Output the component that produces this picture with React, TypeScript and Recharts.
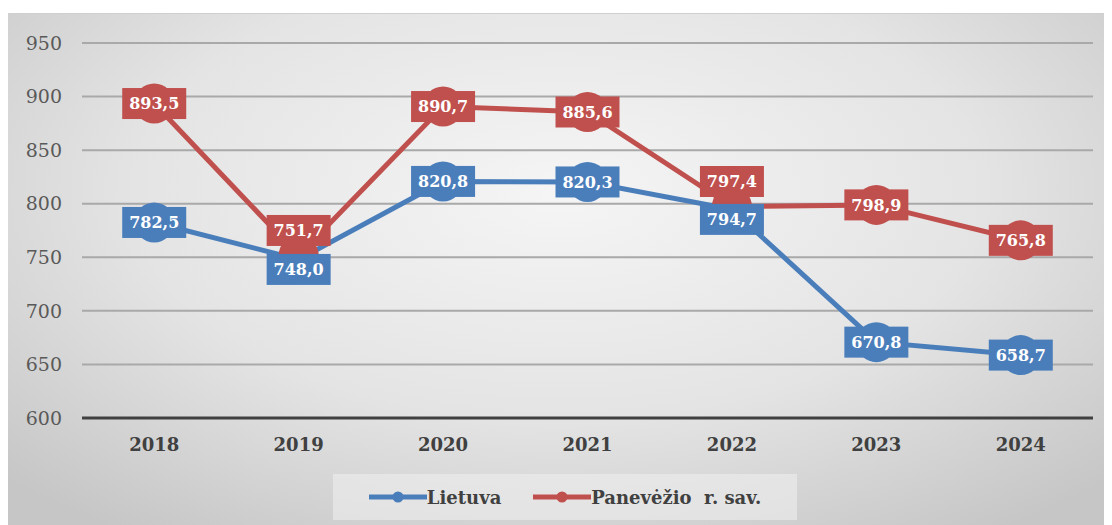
import { LineChart, Line, XAxis, YAxis, CartesianGrid, Legend } from 'recharts';

const years = ['2018', '2019', '2020', '2021', '2022', '2023', '2024'];
const lietuva = [782.5, 748.0, 820.8, 820.3, 794.7, 670.8, 658.7];
const panevezio = [893.5, 751.7, 890.7, 885.6, 797.4, 798.9, 765.8];
const yTicks = [600, 650, 700, 750, 800, 850, 900, 950];

const BLUE = '#4a7ebb';
const RED = '#c0504d';
const SERIF = "'DejaVu Serif', serif";

const data = years.map((year, i) => ({ year, lietuva: lietuva[i], panevezio: panevezio[i] }));

const fmt = (v: number) => v.toFixed(1).replace('.', ',');

// labels sit on the point; when the two series nearly touch, red goes up and blue goes down
const makeLabel = (fill: string, own: number[], other: number[], isUpper: boolean) => (props: any) => {
  const { x, y, index } = props;
  const close = Math.abs(own[index] - other[index]) < 10;
  const shift = close ? (isUpper ? -25 : 10) : 0;
  const w = 64;
  const h = 31;
  return (
    <g>
      <rect x={x - w / 2} y={y + shift - h / 2} width={w} height={h} fill={fill} />
      <text
        x={x}
        y={y + shift}
        dy="0.36em"
        textAnchor="middle"
        fill="#fff"
        style={{ fontFamily: SERIF, fontWeight: 'bold', fontSize: 16 }}
      >
        {fmt(own[index])}
      </text>
    </g>
  );
};

const LegendContent = () => {
  const items = [
    { name: 'Lietuva', color: BLUE },
    { name: 'Panevėžio  r. sav.', color: RED },
  ];
  return (
    <div
      style={{
        display: 'flex',
        alignItems: 'center',
        justifyContent: 'center',
        height: 46,
        background: 'rgba(240,240,240,0.55)',
        fontFamily: SERIF,
        fontWeight: 'bold',
        fontSize: 18,
        color: '#404040',
      }}
    >
      {items.map((it, i) => (
        <div key={it.name} style={{ display: 'flex', alignItems: 'center', marginLeft: i ? 32 : 0 }}>
          <svg width={58} height={14}>
            <line x1={0} y1={7} x2={58} y2={7} stroke={it.color} strokeWidth={5} />
            <circle cx={29} cy={7} r={5.5} fill={it.color} />
          </svg>
          <span style={{ whiteSpace: 'pre' }}>{it.name}</span>
        </div>
      ))}
    </div>
  );
};

export default function App() {
  return (
    <div
      style={{
        marginLeft: -1,
        marginTop: 5,
        width: 1105,
        height: 512,
        background: 'radial-gradient(ellipse 70% 80% at 50% 35%, #f5f5f5 0%, #e4e4e4 55%, #c6c6c6 100%)',
        borderTop: '1px solid #cfcfcf',
        fontFamily: SERIF,
      }}
    >
      <LineChart width={1105} height={512} data={data} margin={{ top: 29, right: 19, bottom: 78, left: 0 }}>
        <CartesianGrid horizontal vertical={false} stroke="#a9a9a9" strokeWidth={2} />
        <XAxis
          dataKey="year"
          scale="band"
          height={30}
          axisLine={{ stroke: '#404040', strokeWidth: 3 }}
          tickLine={false}
          tickSize={0}
          tickMargin={20}
          tick={{ fill: '#404040', fontWeight: 'bold', fontSize: 18, style: { fontFamily: SERIF } }}
        />
        <YAxis
          width={75}
          domain={[600, 950]}
          ticks={yTicks}
          interval={0}
          axisLine={false}
          tickLine={false}
          tickSize={0}
          tickMargin={20}
          tick={{ fill: '#595959', fontSize: 19, style: { fontFamily: SERIF } }}
        />
        <Legend
          layout="vertical"
          verticalAlign="middle"
          align="center"
          content={<LegendContent />}
          wrapperStyle={{ position: 'absolute', left: 326, top: 460, width: 464, height: 46 }}
        />
        <Line
          dataKey="lietuva"
          name="Lietuva"
          stroke={BLUE}
          strokeWidth={5}
          dot={{ r: 20, fill: BLUE, stroke: BLUE, strokeWidth: 0 }}
          activeDot={false}
          label={makeLabel(BLUE, lietuva, panevezio, false)}
          isAnimationActive={false}
        />
        <Line
          dataKey="panevezio"
          name="Panevėžio r. sav."
          stroke={RED}
          strokeWidth={5}
          dot={{ r: 20, fill: RED, stroke: RED, strokeWidth: 0 }}
          activeDot={false}
          label={makeLabel(RED, panevezio, lietuva, true)}
          isAnimationActive={false}
        />
      </LineChart>
    </div>
  );
}
